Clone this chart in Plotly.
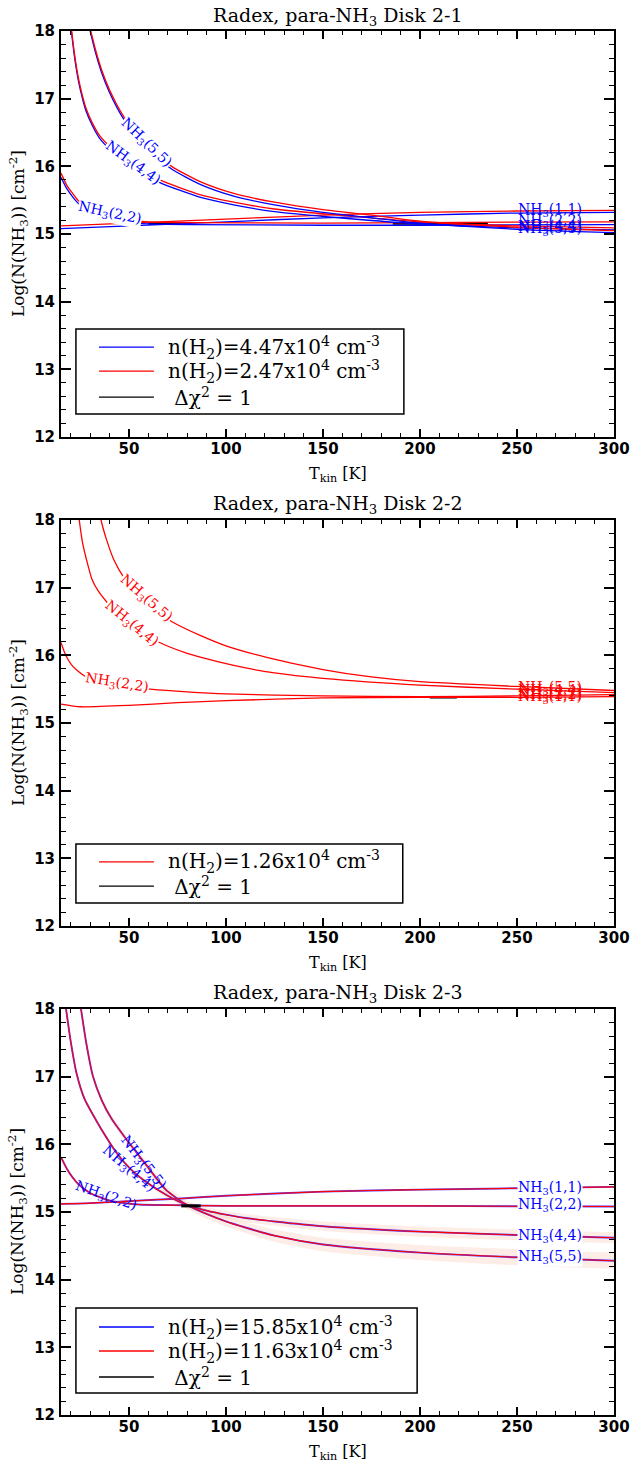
import plotly.graph_objects as go
from plotly.subplots import make_subplots

BLUE = "#0000ff"
RED = "#ff0000"
BAND = "rgba(248,190,165,0.28)"

# ---------------- Panel 1: Disk 2-1 ----------------
T1_11 = [15, 50, 100, 150, 200, 250, 300]
N1_11_blue = [15.08, 15.12, 15.18, 15.24, 15.28, 15.31, 15.32]
N1_11_red = [15.12, 15.16, 15.22, 15.28, 15.32, 15.34, 15.35]
T1_22 = [15, 18, 21, 24, 30, 40, 50, 60, 80, 150, 200, 300]
N1_22_blue = [15.84, 15.67, 15.55, 15.45, 15.33, 15.22, 15.17, 15.15, 15.14, 15.13, 15.13, 15.14]
N1_22_red = [15.90, 15.72, 15.60, 15.49, 15.37, 15.26, 15.21, 15.18, 15.17, 15.16, 15.17, 15.18]
T1_44 = [20, 22, 24, 26, 28, 31, 35, 41, 50, 66, 87, 104, 125, 150, 175, 200, 250, 300]
N1_44_blue = [18.08, 17.61, 17.26, 17.01, 16.81, 16.61, 16.41, 16.23, 16.02, 15.76, 15.54, 15.43, 15.33, 15.26, 15.20, 15.15, 15.09, 15.06]
N1_44_red = [18.12, 17.65, 17.30, 17.05, 16.85, 16.65, 16.45, 16.27, 16.06, 15.80, 15.58, 15.47, 15.37, 15.30, 15.24, 15.18, 15.12, 15.09]
T1_55 = [30, 33, 36, 40, 44, 48.4, 55, 62, 72, 87, 104, 125, 150, 175, 200, 250, 300]
N1_55_blue = [18.00, 17.66, 17.38, 17.09, 16.86, 16.65, 16.41, 16.20, 15.96, 15.73, 15.56, 15.43, 15.32, 15.24, 15.16, 15.07, 15.02]
N1_55_red = [18.04, 17.70, 17.42, 17.13, 16.90, 16.69, 16.45, 16.24, 16.00, 15.77, 15.60, 15.47, 15.36, 15.28, 15.19, 15.10, 15.05]
CHI1_T = [60, 78, None, 186, 235]
CHI1_N = [15.155, 15.155, None, 15.155, 15.155]

# ---------------- Panel 2: Disk 2-2 ----------------
T2_11 = [15, 25, 50, 75, 100, 150, 200, 250, 300]
N2_11 = [15.28, 15.24, 15.26, 15.30, 15.33, 15.37, 15.38, 15.38, 15.39]
T2_22 = [15, 17, 19, 21, 24, 28, 35, 45, 61, 80, 100, 150, 200, 250, 300]
N2_22 = [16.19, 16.03, 15.92, 15.84, 15.76, 15.68, 15.61, 15.55, 15.50, 15.46, 15.43, 15.40, 15.39, 15.40, 15.42]
T2_44 = [24.4, 26, 28.7, 31, 34, 40.7, 50, 65, 80, 104, 125, 150, 200, 250, 300]
N2_44 = [18.00, 17.68, 17.35, 17.12, 16.96, 16.72, 16.46, 16.20, 16.03, 15.85, 15.74, 15.66, 15.56, 15.50, 15.45]
T2_55 = [35.6, 38, 42.4, 47.6, 55, 62, 72, 87, 100, 121, 150, 175, 200, 250, 300]
N2_55 = [18.00, 17.75, 17.40, 17.14, 16.88, 16.70, 16.50, 16.29, 16.14, 15.97, 15.79, 15.68, 15.61, 15.54, 15.48]
CHI2_T = [205, 219]
CHI2_N = [15.38, 15.38]

# ---------------- Panel 3: Disk 2-3 ----------------
T3_11 = [15, 30, 50, 77, 100, 150, 200, 250, 300]
N3_11 = [15.12, 15.13, 15.16, 15.20, 15.24, 15.30, 15.33, 15.35, 15.37]
T3_22 = [15, 18, 21, 24, 30, 40, 55, 77, 100, 200, 300]
N3_22 = [15.81, 15.64, 15.51, 15.41, 15.28, 15.17, 15.11, 15.10, 15.09, 15.09, 15.08]
T3_44 = [17.6, 20, 23, 27, 33, 38, 44, 51, 60, 70, 80, 90, 100, 110, 125, 150, 200, 250, 300]
N3_44 = [18.00, 17.52, 17.05, 16.68, 16.36, 16.12, 15.86, 15.63, 15.42, 15.24, 15.10, 15.02, 14.96, 14.91, 14.86, 14.79, 14.71, 14.66, 14.62]
B3_44 = [0.03, 0.03, 0.03, 0.03, 0.03, 0.03, 0.03, 0.03, 0.035, 0.04, 0.045, 0.05, 0.055, 0.06, 0.065, 0.07, 0.075, 0.08, 0.08]
T3_55 = [25.3, 28, 31.5, 36, 41, 48, 58.5, 69, 79, 90, 100, 110, 125, 150, 200, 250, 300]
N3_55 = [18.00, 17.50, 17.00, 16.65, 16.38, 16.10, 15.71, 15.33, 15.12, 14.97, 14.86, 14.77, 14.65, 14.52, 14.40, 14.33, 14.28]
B3_55 = [0.04, 0.04, 0.04, 0.045, 0.05, 0.055, 0.06, 0.06, 0.06, 0.07, 0.075, 0.08, 0.09, 0.10, 0.11, 0.12, 0.12]
CHI3_T = [77, 87]
CHI3_N = [15.09, 15.09]

TITLES = ["Radex, para-NH<sub>3</sub> Disk 2-1",
          "Radex, para-NH<sub>3</sub> Disk 2-2",
          "Radex, para-NH<sub>3</sub> Disk 2-3"]
LEG1 = ["n(H<sub>2</sub>)=4.47x10<sup>4</sup> cm<sup>-3</sup>",
        "n(H<sub>2</sub>)=2.47x10<sup>4</sup> cm<sup>-3</sup>",
        " Δχ<sup>2</sup> = 1"]
LEG2 = ["n(H<sub>2</sub>)=1.26x10<sup>4</sup> cm<sup>-3</sup>",
        " Δχ<sup>2</sup> = 1"]
LEG3 = ["n(H<sub>2</sub>)=15.85x10<sup>4</sup> cm<sup>-3</sup>",
        "n(H<sub>2</sub>)=11.63x10<sup>4</sup> cm<sup>-3</sup>",
        " Δχ<sup>2</sup> = 1"]
X_TICKS = [50, 100, 150, 200, 250, 300]
Y_TICKS = [12, 13, 14, 15, 16, 17, 18]

fig = make_subplots(rows=3, cols=1)

SERIF = "DejaVu Serif"
SMOOTH = 0.6


def line(T, N, color, row, width=1.3):
    fig.add_trace(go.Scatter(x=T, y=N, mode="lines", showlegend=False, hoverinfo="skip",
                             line=dict(color=color, width=width, shape="spline", smoothing=SMOOTH)),
                  row=row, col=1)


def band(T, N, B, row):
    up = [n + b for n, b in zip(N, B)]
    lo = [n - b for n, b in zip(N, B)]
    fig.add_trace(go.Scatter(x=T, y=up, mode="lines", line=dict(width=0, shape="spline", smoothing=SMOOTH),
                             showlegend=False, hoverinfo="skip"), row=row, col=1)
    fig.add_trace(go.Scatter(x=T, y=lo, mode="lines", line=dict(width=0, shape="spline", smoothing=SMOOTH),
                             fill="tonexty", fillcolor=BAND, showlegend=False, hoverinfo="skip"),
                  row=row, col=1)


def chi(T, N, row, width=2.5):
    fig.add_trace(go.Scatter(x=T, y=N, mode="lines", showlegend=False, hoverinfo="skip",
                             line=dict(color="black", width=width)), row=row, col=1)


# panel 1
chi(CHI1_T, CHI1_N, 1)
for T, Nb, Nr in [(T1_11, N1_11_blue, N1_11_red), (T1_22, N1_22_blue, N1_22_red),
                  (T1_44, N1_44_blue, N1_44_red), (T1_55, N1_55_blue, N1_55_red)]:
    line(T, Nb, BLUE, 1)
    line(T, Nr, RED, 1)

# panel 2
chi(CHI2_T, CHI2_N, 2)
for T, N in [(T2_11, N2_11), (T2_22, N2_22), (T2_44, N2_44), (T2_55, N2_55)]:
    line(T, N, RED, 2)

# panel 3
band(T3_44, N3_44, B3_44, 3)
band(T3_55, N3_55, B3_55, 3)
for T, N in [(T3_11, N3_11), (T3_22, N3_22), (T3_44, N3_44), (T3_55, N3_55)]:
    line(T, N, "#5a3cff", 3, width=1.9)
    line(T, N, RED, 3, width=1.1)
chi(CHI3_T, CHI3_N, 3, width=3)

# axes
TICKFONT = dict(family="DejaVu Sans", size=15, color="black", weight="bold")
domains = [[0.7066, 1.0], [0.3533, 0.6467], [0.0, 0.2934]]
for i in (1, 2, 3):
    fig.update_xaxes(row=i, col=1, range=[15, 300], tickvals=X_TICKS, ticks="inside", ticklen=8,
                     tickwidth=1.5, tickcolor="black",
                     minor=dict(dtick=10, tick0=0, ticks="inside", ticklen=4, tickwidth=1.2, tickcolor="black"),
                     showline=True, linewidth=2, linecolor="black", mirror="ticks",
                     showgrid=False, zeroline=False, ticklabelstandoff=-3, tickfont=TICKFONT,
                     automargin=False)
    fig.update_yaxes(row=i, col=1, range=[12, 18], tickvals=Y_TICKS, ticks="inside", ticklen=10,
                     tickwidth=1.5, tickcolor="black",
                     minor=dict(dtick=0.2, tick0=12, ticks="inside", ticklen=5, tickwidth=1.2, tickcolor="black"),
                     showline=True, linewidth=2, linecolor="black", mirror="ticks",
                     showgrid=False, zeroline=False, domain=domains[i - 1],
                     ticklabelstandoff=1, tickfont=TICKFONT, automargin=False)

ann = []
shapes = []
axes = [("x", "y"), ("x2", "y2"), ("x3", "y3")]
for i, (xa, ya) in enumerate(axes):
    ann.append(dict(xref=xa + " domain", yref=ya + " domain", x=0.5, y=1, yshift=15,
                    text=TITLES[i], showarrow=False, xanchor="center", yanchor="middle",
                    font=dict(family=SERIF, size=19, color="black")))
    ann.append(dict(xref=xa + " domain", yref=ya + " domain", x=0.5, y=0, yshift=-37,
                    text="T<sub>kin</sub> [K]", showarrow=False, xanchor="center", yanchor="middle",
                    font=dict(family=SERIF, size=16, color="black")))
    ann.append(dict(xref=xa + " domain", yref=ya + " domain", x=0, xshift=-43, y=0.5,
                    text="Log(N(NH<sub>3</sub>)) [cm<sup>-2</sup>]", showarrow=False, textangle=-90,
                    xanchor="center", yanchor="middle",
                    font=dict(family=SERIF, size=17, color="black")))


def label(xa, ya, x, y, txt, color, angle=0, bg=None):
    d = dict(xref=xa, yref=ya, x=x, y=y, text=txt, showarrow=False, textangle=angle,
             xanchor="center", yanchor="middle", borderpad=0,
             font=dict(family=SERIF, size=14, color=color))
    if bg:
        d["bgcolor"] = bg
    ann.append(d)


NH = "NH<sub>3</sub>"
# panel 1 labels
label("x", "y", 59, 16.34, NH + "(5,5)", BLUE, 44, "white")
label("x", "y", 52, 16.05, NH + "(4,4)", BLUE, 36, "white")
label("x", "y", 40, 15.31, NH + "(2,2)", BLUE, 12, "white")
label("x", "y", 267, 15.36, NH + "(1,1)", BLUE)
label("x", "y", 267, 15.19, NH + "(2,2)", BLUE)
label("x", "y", 267, 15.10, NH + "(4,4)", BLUE)
label("x", "y", 267, 15.07, NH + "(5,5)", BLUE)
# panel 2 labels
label("x2", "y2", 58.6, 16.84, NH + "(5,5)", RED, 41, "white")
label("x2", "y2", 51.7, 16.47, NH + "(4,4)", RED, 39, "white")
label("x2", "y2", 44, 15.59, NH + "(2,2)", RED, 9, "white")
label("x2", "y2", 267, 15.39, NH + "(1,1)", RED)
label("x2", "y2", 267, 15.42, NH + "(2,2)", RED)
label("x2", "y2", 267, 15.48, NH + "(4,4)", RED)
label("x2", "y2", 267, 15.52, NH + "(5,5)", RED)
# panel 3 labels
label("x3", "y3", 57.5, 15.72, NH + "(5,5)", BLUE, 52)
label("x3", "y3", 50, 15.64, NH + "(4,4)", BLUE, 40)
label("x3", "y3", 38.4, 15.23, NH + "(2,2)", BLUE, 19)
label("x3", "y3", 267, 15.36, NH + "(1,1)", BLUE, 0, "white")
label("x3", "y3", 267, 15.10, NH + "(2,2)", BLUE, 0, "white")
label("x3", "y3", 267, 14.65, NH + "(4,4)", BLUE, 0, "white")
label("x3", "y3", 267, 14.33, NH + "(5,5)", BLUE, 0, "white")

# legends
legends = [
    (("x", "y"), [0.027, 0.620, 0.0567, 0.266], [0.2217, 0.1626, 0.0985], LEG1, [BLUE, RED, "black"]),
    (("x2", "y2"), [0.027, 0.618, 0.0567, 0.202], [0.158, 0.0985], LEG2, [RED, "black"]),
    (("x3", "y3"), [0.027, 0.644, 0.054, 0.2635], [0.2167, 0.1576, 0.0936], LEG3, [BLUE, RED, "black"]),
]
for (xa, ya), box, rows, texts, cols in legends:
    shapes.append(dict(type="rect", xref=xa + " domain", yref=ya + " domain",
                       x0=box[0], x1=box[1], y0=box[2], y1=box[3],
                       line=dict(color="black", width=1.5), fillcolor="white", layer="above"))
    for yy, t, c in zip(rows, texts, cols):
        shapes.append(dict(type="line", xref=xa + " domain", yref=ya + " domain",
                           x0=0.0687, x1=0.168, y0=yy, y1=yy, line=dict(color=c, width=1.3), layer="above"))
        ann.append(dict(xref=xa + " domain", yref=ya + " domain", x=0.19, y=yy, text=t,
                        showarrow=False, xanchor="left", yanchor="middle",
                        font=dict(family=SERIF, size=20, color="black")))

fig.update_layout(width=631, height=1470, margin=dict(l=61, r=17, t=31, b=55, autoexpand=False),
                  paper_bgcolor="white", plot_bgcolor="white", showlegend=False,
                  annotations=ann, shapes=shapes)

# remove the default page margin so the 631x1470 figure fills the window exactly
fig.write_html("out.html", config={"displayModeBar": False},
               post_script="document.body.style.margin='0';document.body.style.overflow='hidden';")
